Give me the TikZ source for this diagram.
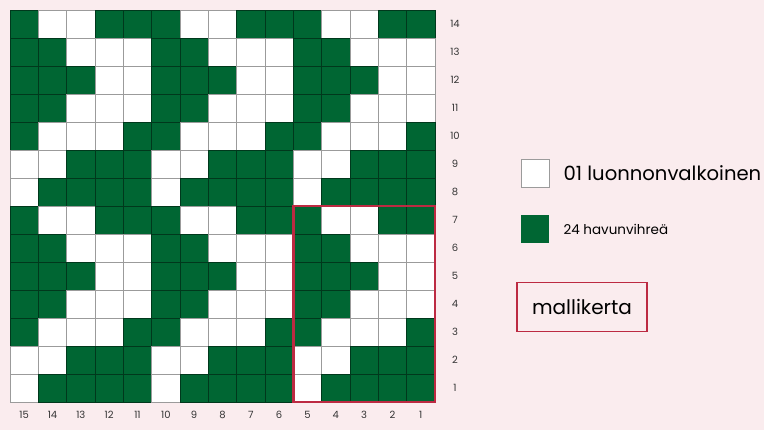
\documentclass[tikz,border=0pt]{standalone}
\usepackage{fontspec}
\setmainfont{Poppins}
\usepackage{tikz}
\usetikzlibrary{positioning}
\definecolor{taustapinkki}{RGB}{250,236,238}
\definecolor{havu}{RGB}{0,102,51}
\definecolor{ruudukko}{RGB}{155,155,155}
\definecolor{mallipuna}{RGB}{188,42,66}

\begin{document}
\begin{tikzpicture}[x=1pt, y=-1pt,
    ruutu0/.style={draw=ruudukko, fill=white, line width=0.8pt},
    ruutu1/.style={draw=havu!55!black, fill=havu, line width=0.8pt},
    numero/.style={font=\fontsize{10}{12}\selectfont, text=black!80, inner sep=0pt},
    selite/.style={minimum size=28pt, inner sep=0pt, line width=0.8pt}]
    \useasboundingbox (0,0) rectangle (764,430);
    \fill[taustapinkki] (0,0) rectangle (764,430);
    % mallikerta: rows 7..1, stitches 5..1 (1 = havunvihreä)
    \foreach \korkeus in {0,1}
    \foreach \rivi/\malli in {0/{1,0,0,1,1}, 1/{1,1,0,0,0}, 2/{1,1,1,0,0}, 3/{1,1,0,0,0},
                              4/{1,0,0,0,1}, 5/{0,0,1,1,1}, 6/{0,1,1,1,1}}
    \foreach \leveys in {0,1,2}
    \foreach \v [count=\s] in \malli {
        \draw[ruutu\v] ({10+(\leveys*5+\s-1)*28.33}, {10+(\korkeus*7+\rivi)*28})
            rectangle ++(28.33,28);
    }
    % row and stitch numbers
    \foreach \n in {1,...,14}
        \node[numero] (rivi\n) at (455, {10+(14-\n+0.5)*28}) {\n};
    \foreach \n in {1,...,15}
        \node[numero] (silmukka\n) at ({10+(15-\n+0.5)*28.33}, 415) {\n};
    % repeat frame
    \draw[mallipuna, line width=2.6pt] ({10+10*28.33}, 206) rectangle (435, 402);

    % legend
    \node[selite, draw=ruudukko, fill=white] (valkoinen) at (535, 173) {};
    \node[right=14pt of valkoinen, inner sep=0pt, font=\fontsize{19.6}{22}\selectfont] (valkoinenteksti) {01 luonnonvalkoinen};
    \node[selite, fill=havu] (vihrea) at (535, 229) {};
    \node[right=14pt of vihrea, inner sep=0pt, font=\fontsize{13.5}{16}\selectfont] (vihreateksti) {24 havunvihreä};
    \node[draw=mallipuna, line width=1.6pt, minimum width=130pt, minimum height=49pt,
          font=\fontsize{20}{22}\selectfont] (mallikerta) at (582, 307) {mallikerta};
\end{tikzpicture}
\end{document}
